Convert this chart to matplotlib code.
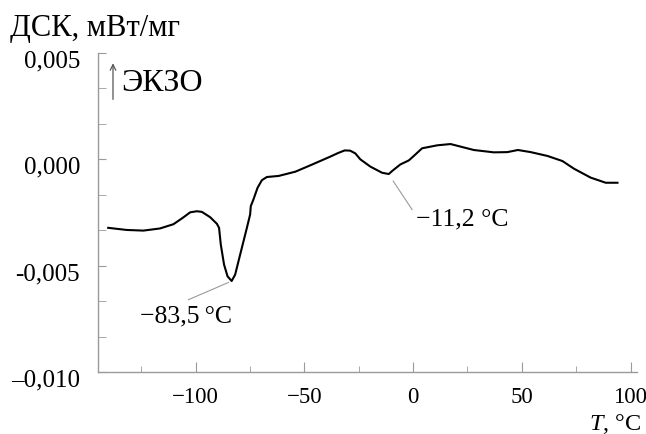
import matplotlib
matplotlib.use("Agg")
import matplotlib.pyplot as plt
import matplotlib.transforms as mtransforms
from matplotlib.ticker import MultipleLocator

plt.rcParams["font.family"] = ["Liberation Serif", "DejaVu Serif"]
plt.rcParams["mathtext.fontset"] = "custom"
plt.rcParams["mathtext.it"] = "Liberation Serif:italic"
plt.rcParams["mathtext.rm"] = "Liberation Serif"

# DSC curve (T in degC, DSC in mW/mg x 1000)
temp = [-140.3, -131.8, -124.1, -116.5, -110.3, -106.0, -102.6, -99.5, -97.2, -93.4,
        -90.3, -89.3, -88.5, -87.0, -85.4, -83.5, -81.9, -79.6, -76.5, -75.0,
        -74.7, -73.5, -71.6, -69.6, -67.3, -61.9, -54.2, -47.3, -38.1, -34.5,
        -31.5, -29.0, -26.6, -24.3, -19.7, -14.3, -11.2, -9.7, -5.9, -2.0,
        0.3, 4.1, 11.1, 17.2, 19.5, 27.9, 37.1, 43.3, 48.2, 54.1,
        61.8, 68.7, 74.0, 81.7, 88.6, 94.0]
dsc = [-3.22, -3.32, -3.35, -3.25, -3.05, -2.75, -2.49, -2.44, -2.47, -2.72,
       -3.03, -3.22, -4.01, -4.95, -5.50, -5.72, -5.42, -4.48, -3.22, -2.59,
       -2.20, -1.89, -1.34, -0.98, -0.83, -0.78, -0.58, -0.28, 0.13, 0.30,
       0.42, 0.41, 0.28, 0.00, -0.34, -0.63, -0.69, -0.55, -0.24, -0.05,
       0.16, 0.52, 0.66, 0.72, 0.66, 0.44, 0.33, 0.34, 0.44, 0.34,
       0.16, -0.08, -0.44, -0.86, -1.10, -1.10]
dsc = [v / 1000 for v in dsc]

x_ticks = [-100, -50, 0, 50, 100]
x_labels = ["\u2212100", "\u221250", "0", "50", "100"]
y_ticks = [-0.010, -0.005, 0.0, 0.005]
y_labels = ["\u20130,010", "-0,005", "0,000", "0,005"]

grey = "#9a9a9a"

fig = plt.figure(figsize=(6.46, 4.35), dpi=100)
ax = fig.add_axes([0.1517, 0.1425, 0.8344, 0.7333])

ax.plot(temp, dsc, color="black", lw=1.5, solid_joinstyle="round")

ax.set_xlim(-145, 103)
ax.set_ylim(-0.010, 0.005)
ax.set_xticks(x_ticks, x_labels)
ax.set_yticks(y_ticks, y_labels)
ax.xaxis.set_minor_locator(MultipleLocator(25))
ax.yaxis.set_minor_locator(MultipleLocator(0.005 / 3))

for s in ["top", "right"]:
    ax.spines[s].set_visible(False)
for s in ["left", "bottom"]:
    ax.spines[s].set_color(grey)
    ax.spines[s].set_linewidth(1.0)

ax.tick_params(axis="x", which="major", direction="in", length=7, color=grey,
               labelsize=16.5, pad=10)
ax.tick_params(axis="x", which="minor", direction="in", length=4.5, color=grey)
ax.tick_params(axis="y", which="both", direction="in", length=6, color=grey,
               labelsize=18, pad=13)

shift = mtransforms.ScaledTranslation(0, -0.05, fig.dpi_scale_trans)
for lab in ax.get_yticklabels():
    lab.set_transform(lab.get_transform() + shift)

# peak labels
ax.plot([-85, -103.4], [-0.00579, -0.0066], color=grey, lw=0.8)
ax.text(-104.5, -0.00736, "\u221283,5\u2009\u00b0C", ha="center", va="center", fontsize=18.5)
ax.plot([-9.2, -0.5], [-0.00102, -0.00236], color=grey, lw=0.8)
ax.text(22.6, -0.00278, "\u221211,2 \u00b0C", ha="center", va="center", fontsize=18.5)

# exo direction
ax.annotate("", xy=(-138.1, 0.00465), xytext=(-138.1, 0.00269),
            arrowprops=dict(arrowstyle="->", color="#555555", lw=0.9))
ax.text(-134.5, 0.00362, "ЭКЗО", ha="left", va="center", fontsize=23)

fig.text(0.015, 0.917, "ДСК, мВт/мг", ha="left", va="baseline", fontsize=22)
fig.text(0.993, 0.012, "$\\mathit{T}$, \u00b0C", ha="right", va="baseline", fontsize=17.5)

fig.savefig("out.png", dpi=100)
